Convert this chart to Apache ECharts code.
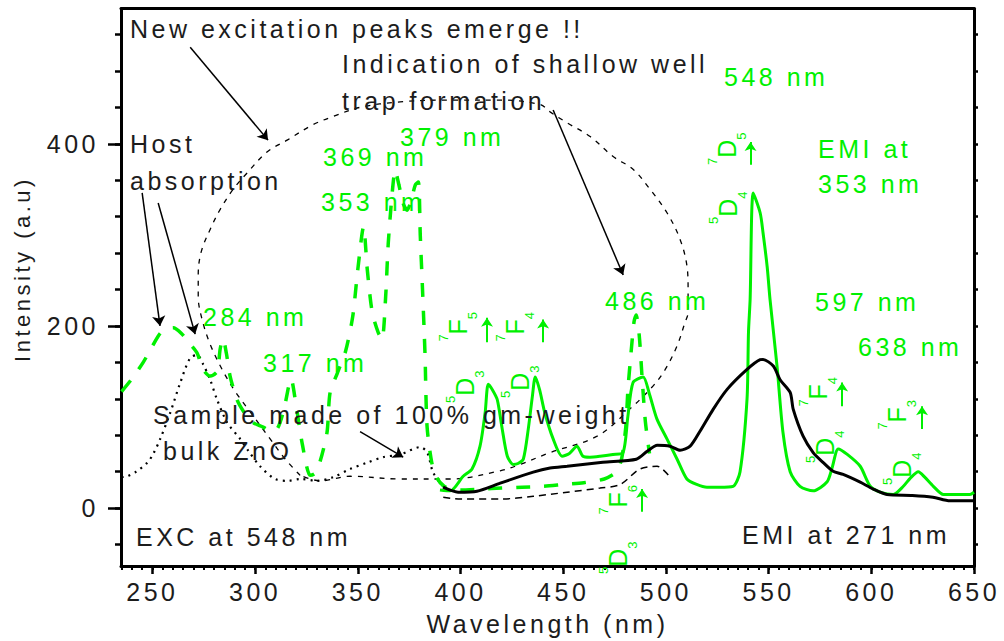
<!DOCTYPE html>
<html>
<head>
<meta charset="utf-8">
<script src="https://cdn.jsdelivr.net/npm/echarts@6/dist/echarts.min.js"></script>
<style>
  html, body { margin: 0; padding: 0; background: #fff; }
  #chart { width: 1004px; height: 641px; }
  #chart text { letter-spacing: 3.5px; }
</style>
</head>
<body>
<div id="chart"></div>
<script>
// ---- axis ticks ----
const xMajorTicks = [250, 300, 350, 400, 450, 500, 550, 600, 650];
const xMinorTicks = [];
for (let v = 235; v <= 650; v += 5) xMinorTicks.push(v);
const yLabelTicks = [0, 200, 400];
const yMinorTicks = [-40, 0, 40, 80, 120, 160, 200, 240, 280, 320, 360, 400, 440, 480, 520];

// ---- spectra: [wavelength (nm), intensity (a.u.)] ----
// excitation of the doped sample, monitored at 548 nm
const excAt548 = [
  [235, 128], [240, 142], [245.5, 160], [250, 178], [253.8, 192], [257.2, 197], [260.1, 198],
  [264, 192], [268.4, 180], [271.8, 170], [274.7, 152], [278.1, 145], [281.5, 150], [283, 175],
  [284.4, 186], [286, 170], [287.8, 145], [291.2, 119], [295, 104], [299, 94], [303.9, 89],
  [308, 84], [311, 88], [314, 108], [317.5, 142], [320, 112], [323, 70], [326.8, 36], [329, 38],
  [331.6, 51], [335, 83], [336.5, 127], [340, 148], [344, 172], [347.5, 210], [350, 262],
  [352.8, 309], [354.6, 262], [357, 215], [359.9, 193], [361.8, 185], [363.5, 230], [364.8, 290],
  [366.7, 345], [368.2, 371], [370, 355], [372, 335], [374, 327], [376, 338], [378, 355],
  [379.5, 358], [380.4, 300], [381.5, 240], [382.7, 170], [383.7, 90], [386, 50], [388.6, 33],
  [392, 24], [396, 21], [400, 20], [410, 21], [420, 22], [430, 23], [440, 24], [450, 26],
  [460, 28], [470, 32], [476, 40], [478.5, 55], [480.5, 90], [481.5, 130], [483, 170],
  [484.5, 205], [485.5, 212], [487, 190], [488.5, 140], [490, 95], [492, 60]
];
// emission of the doped sample, excited at 353 nm
const emiAt353 = [
  [390, 20], [395, 19], [401.3, 35], [405.6, 43], [409.5, 68], [412, 105], [413.5, 136],
  [415.5, 130], [417.9, 119], [420.3, 87], [422.8, 57], [425.7, 48], [428, 49], [430.6, 54],
  [433, 87], [435, 123], [436.4, 144], [438.5, 130], [441, 105], [445.1, 76], [449.5, 57],
  [453, 60], [456.7, 68], [459.6, 57], [463, 56], [467.9, 57], [474.2, 59], [479.1, 61],
  [481.5, 101], [484, 138], [488.9, 144], [492, 125], [495.6, 98], [500.5, 76], [505.4, 54],
  [510.2, 32], [515, 26], [520, 23], [526, 23], [532.7, 24], [536.1, 40], [539.5, 120],
  [540.2, 193], [541, 229], [542.5, 346], [545.9, 324], [547.3, 302], [549.3, 265], [550.7, 229],
  [554.1, 156], [557, 83], [560.5, 40], [565.3, 24], [571.7, 19], [578.5, 29], [581, 45],
  [583.9, 65], [588.3, 59], [594.6, 46], [599.5, 24], [605, 17], [610.7, 15], [615.6, 24],
  [619, 33], [622.9, 40], [626, 34], [630.2, 24], [635.1, 15], [640, 15], [648, 15], [650, 17.5]
];
// emission excited at 271 nm
const emiAt271 = [
  [391.5, 23], [398.8, 17.5], [408, 18.6], [419.3, 27.4], [435.4, 39.5], [443.6, 44],
  [451.9, 46], [469.3, 50.4], [485.6, 53.7], [490.9, 62.5], [495.8, 69], [502, 68],
  [506.9, 63.6], [511.8, 68], [516.6, 84.4], [523, 108.5], [529.8, 130.4], [539.5, 152.3],
  [545.9, 163], [547.3, 163.3], [552.3, 156], [555.6, 141], [560.5, 127], [562, 108.5],
  [566.8, 79], [571.7, 61], [576.6, 50], [581.4, 40.5], [586.3, 37], [594.6, 28.5],
  [600.9, 21], [607.7, 15], [620, 14], [630, 12], [638.3, 8], [650, 8]
];
// host (ZnO) absorption band
const hostExc = [
  [235, 34], [237.7, 35], [242, 40], [247.5, 50], [250.5, 60], [253.8, 76], [258.7, 105],
  [263.6, 138], [268.4, 165], [271.8, 168], [274.7, 158], [278.1, 141], [281.5, 119],
  [286.4, 94], [292.7, 76], [297, 62], [302.4, 46], [309.7, 32], [316, 30], [321.9, 32],
  [330.2, 30], [338, 34], [346.3, 43], [354.6, 50], [362.3, 56], [370.6, 59], [380.4, 67],
  [383.8, 61], [386.7, 39], [391.6, 24], [396.4, 17.5]
];
// bulk ZnO emission
const bulkZnO = [
  [391.6, 12], [400, 10], [419.3, 10], [435.4, 13], [451.9, 17.5], [467.9, 22],
  [477.7, 26], [487.4, 43], [495.7, 46], [502, 34]
];
// outline drawn round the new excitation peaks
const peakOutline = [
  [321.9, 36], [314.6, 54], [307.3, 76], [298.5, 103], [290.3, 128], [284, 152], [278.1, 180],
  [274.2, 207], [272.3, 232], [272.3, 256], [273.7, 281], [278.1, 306], [283, 328], [289.3, 350],
  [296.1, 368], [305.8, 391], [315.6, 404], [328.2, 421], [338, 430], [351.1, 440], [370.6, 446],
  [394.9, 448], [419.3, 448], [438.8, 443], [443.6, 435], [451.9, 423], [463.1, 408],
  [474.3, 386], [484, 372], [492.3, 350], [500.6, 324], [506.9, 295], [510.3, 265], [510.8, 240],
  [510.8, 215], [509.3, 204], [505.4, 178], [499.6, 152], [493.7, 134], [482.5, 109],
  [466.5, 79], [443.6, 61], [429, 48], [419.3, 41], [394.9, 32], [370.6, 32], [346.3, 35],
  [331.7, 30], [321.9, 36]
];

// ---- pointer arrows (data coordinates, tail -> head) ----
const noteArrows = [
  [[268.4, 506], [306.3, 404]],
  [[445.1, 437], [479.2, 256]],
  [[245, 346], [253.7, 200]],
  [[252.8, 335], [270.8, 191]],
  [[351.1, 84], [372.1, 56]]
];
const transitionArrows = [
  [[412.9, 182], [412.9, 209]],
  [[440.2, 182], [440.2, 207]],
  [[541.2, 377], [541.2, 402]],
  [[488.4, -4], [488.4, 21]],
  [[585.8, 112], [585.8, 138]],
  [[624.7, 87], [624.7, 112]]
];

// ---- text ----
const FONT = '"Liberation Sans", Arial, sans-serif';
const GREEN = '#00f000';
const INK = '#1c1c1c';

const blackNotes = [
  ['New excitation peaks emerge !!', 130, 29],
  ['Indication of shallow well', 342, 64],
  ['trap formation', 342, 101],
  ['Host', 130, 144],
  ['absorption', 130, 181],
  ['Sample made of 100% gm-weight', 153, 415],
  ['bulk ZnO', 163, 451],
  ['EXC at 548 nm', 136, 537],
  ['EMI at 271 nm', 742, 535]
];
const greenNotes = [
  ['548 nm', 724, 77],
  ['379 nm', 400, 137],
  ['369 nm', 323, 157],
  ['353 nm', 321, 202],
  ['284 nm', 203, 317],
  ['317 nm', 263, 363],
  ['486 nm', 605, 301],
  ['597 nm', 815, 302],
  ['638 nm', 858, 347],
  ['EMI at', 818, 149],
  ['353 nm', 818, 184]
];
// term symbols: [superscript, letter, subscript, centre x, centre y]
const termLabels = [
  ['7', 'F', '5', 458, 325], ['5', 'D', '3', 465, 385],
  ['7', 'F', '4', 515, 325], ['5', 'D', '3', 520, 380],
  ['7', 'D', '5', 727, 147], ['5', 'D', '4', 728, 206],
  ['7', 'F', '6', 618, 498], ['5', 'D', '3', 618, 556],
  ['7', 'F', '4', 818, 390], ['5', 'D', '4', 825, 445],
  ['7', 'F', '3', 897, 413], ['5', 'D', '4', 902, 467]
];

const graphics = [];
// y-axis title
graphics.push({
  type: 'text', x: 22, y: 269, rotation: Math.PI / 2, z: 50,
  style: { text: 'Intensity (a.u)', fill: INK, fontSize: 22, fontFamily: FONT, align: 'center', verticalAlign: 'middle' }
});
blackNotes.forEach(([t, x, y]) => graphics.push({
  type: 'text', x, y, z: 50,
  style: { text: t, fill: INK, fontSize: 25, fontFamily: FONT, align: 'left', verticalAlign: 'middle' }
}));
greenNotes.forEach(([t, x, y]) => graphics.push({
  type: 'text', x, y, z: 50,
  style: { text: t, fill: GREEN, fontSize: 25, fontFamily: FONT, align: 'left', verticalAlign: 'middle' }
}));
termLabels.forEach(([sup, main, sub, x, y]) => graphics.push({
  type: 'text', x, y, rotation: Math.PI / 2, z: 50,
  style: {
    text: '{sup|' + sup + '}{m|' + main + '}{sub|' + sub + '}',
    fill: GREEN, align: 'center', verticalAlign: 'middle',
    rich: {
      sup: { fontSize: 13, fontFamily: FONT, fill: GREEN, verticalAlign: 'top', lineHeight: 42 },
      m: { fontSize: 25, fontFamily: FONT, fill: GREEN, lineHeight: 42 },
      sub: { fontSize: 13, fontFamily: FONT, fill: GREEN, verticalAlign: 'bottom', lineHeight: 42 }
    }
  }
}));

const X_MIN = 234.7, X_MAX = 650, Y_MIN = -63.5, Y_MAX = 548.5;
const xBase = { type: 'value', min: X_MIN, max: X_MAX, splitLine: { show: false } };
const yBase = { type: 'value', min: Y_MIN, max: Y_MAX, splitLine: { show: false } };
const tickLine = { color: '#000', width: 2.5 };

const option = {
  animation: false,
  backgroundColor: '#fff',
  grid: { left: 121, right: 30, top: 8.5, bottom: 74 },
  xAxis: [
    Object.assign({}, xBase, {
      position: 'bottom',
      axisLine: { show: true, onZero: false, lineStyle: { color: '#000', width: 3 } },
      axisTick: { show: true, customValues: xMajorTicks, length: 8, lineStyle: tickLine },
      axisLabel: { show: true, customValues: xMajorTicks, fontSize: 25, fontFamily: FONT, color: INK, margin: 13 },
      name: 'Wavelength (nm)', nameLocation: 'middle', nameGap: 45,
      nameTextStyle: { fontSize: 25, fontFamily: FONT, color: INK }
    }),
    Object.assign({}, xBase, {
      position: 'bottom',
      axisLine: { show: false, onZero: false },
      axisTick: { show: true, customValues: xMinorTicks, length: 4, lineStyle: { color: '#000', width: 2 } },
      axisLabel: { show: false }
    }),
    Object.assign({}, xBase, {
      position: 'top',
      axisLine: { show: true, onZero: false, lineStyle: { color: '#000', width: 3 } },
      axisTick: { show: false }, axisLabel: { show: false }
    })
  ],
  yAxis: [
    Object.assign({}, yBase, {
      position: 'left',
      axisLine: { show: true, onZero: false, lineStyle: { color: '#000', width: 3 } },
      axisTick: { show: true, customValues: yLabelTicks, length: 13, lineStyle: tickLine },
      axisLabel: { show: true, customValues: yLabelTicks, fontSize: 25, fontFamily: FONT, color: INK, margin: 22 }
    }),
    Object.assign({}, yBase, {
      position: 'left',
      axisLine: { show: false, onZero: false },
      axisTick: { show: true, customValues: yMinorTicks, length: 6, lineStyle: tickLine },
      axisLabel: { show: false }
    }),
    Object.assign({}, yBase, {
      position: 'right',
      axisLine: { show: true, onZero: false, lineStyle: { color: '#000', width: 3 } },
      axisTick: { show: true, customValues: yMinorTicks, length: 4, lineStyle: tickLine },
      axisLabel: { show: false }
    })
  ],
  series: [
    {
      name: 'outline', type: 'line', data: peakOutline, showSymbol: false, smooth: 0.35, z: 2,
      lineStyle: { color: '#000', width: 1.3, type: [5, 6] }
    },
    {
      name: 'host absorption', type: 'line', data: hostExc, showSymbol: false, smooth: 0.3, z: 3,
      lineStyle: { color: '#000', width: 2.2, type: [2, 5] }
    },
    {
      name: 'bulk ZnO', type: 'line', data: bulkZnO, showSymbol: false, smooth: 0.3, z: 3,
      lineStyle: { color: '#000', width: 1.5, type: [7, 5] }
    },
    {
      name: 'EXC at 548 nm', type: 'line', data: excAt548, showSymbol: false, smooth: 0.25, z: 4,
      lineStyle: { color: GREEN, width: 3.5, type: [14, 14] }
    },
    {
      name: 'EMI at 353 nm', type: 'line', data: emiAt353, showSymbol: false, smooth: 0.25, z: 5,
      lineStyle: { color: GREEN, width: 3 }
    },
    {
      name: 'EMI at 271 nm', type: 'line', data: emiAt271, showSymbol: false, smooth: 0.25, z: 6,
      lineStyle: { color: '#000', width: 3 }
    },
    {
      name: 'pointers', type: 'lines', coordinateSystem: 'cartesian2d', z: 7,
      symbol: ['none', 'arrow'], symbolSize: 10,
      lineStyle: { color: '#000', width: 1.5, opacity: 1 },
      data: noteArrows.map(c => ({ coords: c }))
    },
    {
      name: 'transitions', type: 'lines', coordinateSystem: 'cartesian2d', z: 7,
      symbol: ['none', 'arrow'], symbolSize: 9,
      lineStyle: { color: GREEN, width: 2, opacity: 1 },
      data: transitionArrows.map(c => ({ coords: c }))
    }
  ],
  graphic: graphics
};

const chart = echarts.init(document.getElementById('chart'), null, { renderer: 'svg', width: 1004, height: 641 });
chart.setOption(option);
</script>
</body>
</html>
